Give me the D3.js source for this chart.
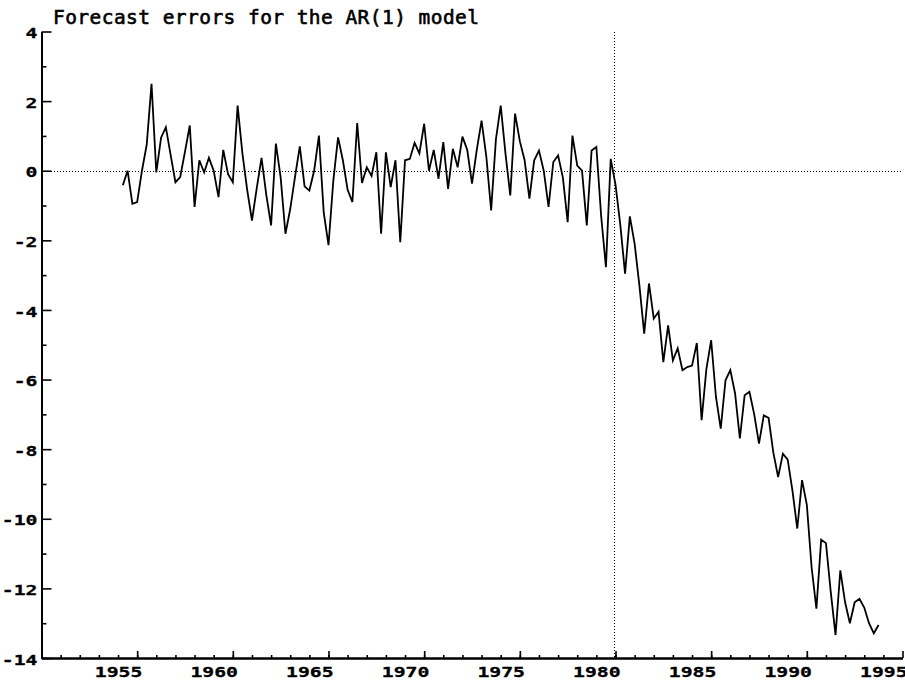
<!DOCTYPE html>
<html>
<head>
<meta charset="utf-8">
<script src="https://cdn.jsdelivr.net/npm/d3@7"></script>
<style>
  body { margin: 0; background: #fff; }
  svg { display: block; }
</style>
</head>
<body>
<svg id="chart" width="905" height="680"></svg>
<script>
// Quarterly forecast errors, first observation 1955Q1
const titleText = "Forecast errors for the AR(1) model";
const firstQuarter = 1955.25;
const forecastErrors = [
  -0.42, 0.0, -0.95, -0.9, 0.0, 0.75, 2.5, -0.05, 0.95, 1.25,
  0.45, -0.33, -0.18, 0.55, 1.3, -1.04, 0.3, -0.05, 0.37, 0.0,
  -0.76, 0.6, -0.1, -0.33, 1.87, 0.5, -0.55, -1.43, -0.5, 0.37,
  -0.7, -1.57, 0.78, -0.2, -1.81, -1.1, -0.18, 0.7, -0.45, -0.57,
  0.0, 1.01, -1.2, -2.14, -0.3, 0.96, 0.3, -0.55, -0.9, 1.37,
  -0.35, 0.1, -0.15, 0.53, -1.81, 0.53, -0.47, 0.3, -2.05, 0.3,
  0.34, 0.8, 0.5, 1.35, 0.0, 0.6, -0.23, 0.82, -0.52, 0.63,
  0.1, 0.98, 0.6, -0.37, 0.6, 1.44, 0.4, -1.14, 0.9, 1.87,
  0.49, -0.71, 1.64, 0.85, 0.3, -0.8, 0.3, 0.58, 0.0, -1.04,
  0.25, 0.44, -0.2, -1.48, 1.01, 0.15, 0.0, -1.57, 0.58, 0.68,
  -1.3, -2.77, 0.34, -0.4, -1.55, -2.96, -1.31, -2.1, -3.3, -4.68,
  -3.24, -4.25, -4.05, -5.5, -4.44, -5.45, -5.1, -5.73, -5.64, -5.6,
  -4.95, -7.17, -5.7, -4.87, -6.5, -7.41, -6.02, -5.73, -6.4, -7.69,
  -6.45, -6.35, -7.0, -7.84, -7.03, -7.1, -8.1, -8.8, -8.13, -8.3,
  -9.2, -10.28, -8.89, -9.6, -11.4, -12.58, -10.6, -10.7, -12.1, -13.34,
  -11.48, -12.4, -13.0, -12.4, -12.3, -12.55, -13.0, -13.29, -13.05
];
const forecastOrigin = 1980.9;
const yMajorTicks = [4, 2, 0, -2, -4, -6, -8, -10, -12, -14];
const yMinorTicks = [3, 1, -1, -3, -5, -7, -9, -11, -13];
const xLabelYears = [1955, 1960, 1965, 1970, 1975, 1980, 1985, 1990, 1995];
const xMajorTicks = [1956, 1961, 1966, 1971, 1976, 1981, 1986, 1991, 1996];
const xMinorTicks = d3.range(1952, 1996);

const svg = d3.select("#chart");
const x = d3.scaleLinear().domain([1951, 1996]).range([41.5, 902.5]);
const y = d3.scaleLinear().domain([4, -14]).range([31.5, 658]);

const monoFont = "'DejaVu Sans Mono', 'Liberation Mono', monospace";
const charWidth = 11.9;

function styleLabels(sel) {
  sel.selectAll("text")
    .attr("font-family", monoFont)
    .attr("font-size", 14.5)
    .attr("font-weight", "bold")
    .attr("fill", "#000")
    .attr("stroke", "#000")
    .attr("stroke-width", 0.3)
    .attr("lengthAdjust", "spacingAndGlyphs")
    .attr("textLength", function () { return this.textContent.length * charWidth; });
}

// Title
svg.append("text")
  .attr("x", 53)
  .attr("y", 23.5)
  .attr("font-family", monoFont)
  .attr("font-size", 19.5)
  .attr("fill", "#000")
  .attr("stroke", "#000")
  .attr("stroke-width", 0.6)
  .attr("textLength", 426)
  .attr("lengthAdjust", "spacing")
  .text(titleText);

// Reference lines (dotted)
const zeroY = Math.round(y(0)) + 0.5;
const originX = Math.round(x(forecastOrigin)) + 0.5;
svg.append("line")
  .attr("x1", x(1951)).attr("x2", x(1996))
  .attr("y1", zeroY).attr("y2", zeroY)
  .attr("stroke", "#000").attr("stroke-width", 1)
  .attr("shape-rendering", "crispEdges")
  .attr("stroke-dasharray", "1,2");
svg.append("line")
  .attr("x1", originX).attr("x2", originX)
  .attr("y1", y(4)).attr("y2", y(-14))
  .attr("stroke", "#000").attr("stroke-width", 1)
  .attr("shape-rendering", "crispEdges")
  .attr("stroke-dasharray", "1,2");

// Y axis: minor ticks, then major ticks with labels
svg.append("g").attr("transform", `translate(${x(1951)},0)`)
  .call(d3.axisLeft(y).tickValues(yMinorTicks).tickSize(-5).tickSizeOuter(0).tickFormat(""));
const yMajor = svg.append("g").attr("transform", `translate(${x(1951)},0)`)
  .call(d3.axisLeft(y).tickValues(yMajorTicks).tickSize(-10).tickSizeOuter(0).tickPadding(4)
    .tickFormat(d => (d < 0 ? "-" : "") + Math.abs(d)));
yMajor.selectAll("text").attr("dy", "0.42em");
styleLabels(yMajor);

// X axis: minor ticks each year, taller ticks every five years, year labels
const xBase = y(-14);
svg.append("g").attr("transform", `translate(0,${xBase})`)
  .call(d3.axisBottom(x).tickValues(xMinorTicks).tickSize(-3).tickSizeOuter(0).tickFormat(""));
svg.append("g").attr("transform", `translate(0,${xBase})`)
  .call(d3.axisBottom(x).tickValues(xMajorTicks).tickSize(-7).tickSizeOuter(0).tickFormat(""));
const xLabels = svg.append("g").attr("transform", `translate(0,${xBase})`)
  .call(d3.axisBottom(x).tickValues(xLabelYears).tickSize(0).tickPadding(9).tickFormat(d3.format("d")));
xLabels.select(".domain").remove();
styleLabels(xLabels);

svg.selectAll(".domain").attr("stroke", "#000").attr("stroke-width", 2);
svg.selectAll(".tick line").attr("stroke", "#000").attr("stroke-width", 1.6);

// Forecast error series
const line = d3.line()
  .x((d, i) => x(firstQuarter + i / 4))
  .y(d => y(d));
svg.append("path")
  .datum(forecastErrors)
  .attr("d", line)
  .attr("fill", "none")
  .attr("stroke", "#000")
  .attr("stroke-width", 1.8)
  .attr("stroke-linejoin", "miter");
</script>
</body>
</html>
